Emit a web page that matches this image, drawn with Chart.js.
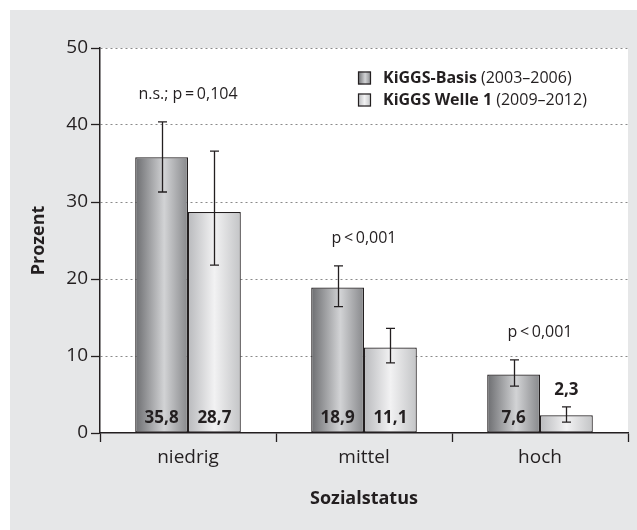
<!DOCTYPE html>
<html>
<head>
<meta charset="utf-8">
<script src="https://cdn.jsdelivr.net/npm/chart.js@4.4.1/dist/chart.umd.min.js"></script>
<style>
  html, body { margin: 0; padding: 0; background: #fff; }
  #wrap { width: 637px; height: 530px; }
</style>
</head>
<body>
<div id="wrap"><canvas id="myChart" width="637" height="530"></canvas></div>
<script>
var categories = ['niedrig', 'mittel', 'hoch'];
var basisValues = [35.8, 18.9, 7.6];
var basisLow = [31.3, 16.4, 6.1];
var basisHigh = [40.4, 21.7, 9.5];
var welleValues = [28.7, 11.1, 2.3];
var welleLow = [21.8, 9.1, 1.4];
var welleHigh = [36.6, 13.6, 3.4];
var valueLabels = [['35,8', '18,9', '7,6'], ['28,7', '11,1', '2,3']];
var pLabels = ['n.s.; p\u2009=\u20090,104', 'p\u2009<\u20090,001', 'p\u2009<\u20090,001'];
var yTicks = [0, 10, 20, 30, 40, 50];

var FONT = '"Open Sans", "DejaVu Sans", sans-serif';
var INK = '#231f20';
var PANEL = '#e6e7e8';

// Farbverläufe der Balken (dunkel / hell)
var gradStops = [
  [[0, '#6c6d70'], [0.55, '#d2d3d5'], [1, '#87888b']],
  [[0, '#b9babd'], [0.5, '#f2f2f3'], [1, '#c3c4c6']]
];

function makeGrad(ctx, x0, x1, stops) {
  var g = ctx.createLinearGradient(x0, 0, x1, 0);
  stops.forEach(function (s) { g.addColorStop(s[0], s[1]); });
  return g;
}

var backgroundPlugin = {
  id: 'background',
  beforeDraw: function (chart) {
    var ctx = chart.ctx, a = chart.chartArea;
    ctx.save();
    ctx.fillStyle = '#fff';
    ctx.fillRect(0, 0, chart.width, chart.height);
    ctx.fillStyle = PANEL;
    ctx.fillRect(10, 10, chart.width - 10, chart.height - 10);
    ctx.fillStyle = '#fff';
    ctx.fillRect(a.left, a.top, a.right - a.left, a.bottom - a.top);
    ctx.restore();
  }
};

var gradientPlugin = {
  id: 'gradientBars',
  beforeDatasetsDraw: function (chart) {
    var ctx = chart.ctx;
    chart.data.datasets.forEach(function (ds, di) {
      chart.getDatasetMeta(di).data.forEach(function (el) {
        var p = el.getProps(['x', 'width'], true);
        var opts = Object.assign({}, el.options);
        opts.backgroundColor = makeGrad(ctx, p.x - p.width / 2, p.x + p.width / 2, gradStops[di]);
        el.options = opts;
      });
    });
  }
};

var errorPlugin = {
  id: 'errorBars',
  afterDatasetsDraw: function (chart) {
    var ctx = chart.ctx, y = chart.scales.y;
    var lows = [basisLow, welleLow], highs = [basisHigh, welleHigh];
    ctx.save();
    ctx.strokeStyle = INK;
    ctx.lineWidth = 1.3;
    chart.data.datasets.forEach(function (ds, di) {
      chart.getDatasetMeta(di).data.forEach(function (el, i) {
        var x = Math.round(el.x) + 0.5;
        var yl = y.getPixelForValue(lows[di][i]);
        var yh = y.getPixelForValue(highs[di][i]);
        ctx.beginPath();
        ctx.moveTo(x, yl); ctx.lineTo(x, yh);
        ctx.moveTo(x - 4.5, yl); ctx.lineTo(x + 4.5, yl);
        ctx.moveTo(x - 4.5, yh); ctx.lineTo(x + 4.5, yh);
        ctx.stroke();
      });
    });

    // Werte in den Balken
    ctx.fillStyle = INK;
    ctx.textAlign = 'center';
    ctx.textBaseline = 'middle';
    ctx.font = 'bold 17px ' + FONT;
    chart.data.datasets.forEach(function (ds, di) {
      chart.getDatasetMeta(di).data.forEach(function (el, i) {
        var base = y.getPixelForValue(0);
        var top = el.y;
        var ty;
        if (base - top < 30) {
          ty = y.getPixelForValue(highs[di][i]) - 17;
        } else {
          ty = base - 15;
        }
        ctx.fillText(valueLabels[di][i], el.x, ty);
      });
    });

    // p-Werte über den Gruppen
    ctx.font = '16px ' + FONT;
    var x = chart.scales.x;
    categories.forEach(function (c, i) {
      var top = Math.max(basisHigh[i], welleHigh[i]);
      ctx.fillText(pLabels[i], x.getPixelForValue(i), y.getPixelForValue(top) - 27);
    });
    ctx.restore();
  }
};

var legendPlugin = {
  id: 'customLegend',
  afterDraw: function (chart) {
    var ctx = chart.ctx;
    var rows = [
      { bold: 'KiGGS-Basis', normal: ' (2003\u20132006)' },
      { bold: 'KiGGS Welle 1', normal: ' (2009\u20132012)' }
    ];
    ctx.save();
    ctx.textBaseline = 'middle';
    rows.forEach(function (r, i) {
      var cy = 78 + i * 22;
      var bx = 358, by = cy - 6.5;
      ctx.fillStyle = makeGrad(ctx, bx, bx + 13, gradStops[i]);
      ctx.fillRect(bx, by, 13, 13);
      ctx.strokeStyle = INK;
      ctx.lineWidth = 1.2;
      ctx.strokeRect(bx + 0.5, by + 0.5, 12, 12);
      ctx.fillStyle = INK;
      ctx.font = 'bold 16px ' + FONT;
      ctx.fillText(r.bold, 383, cy);
      var w = ctx.measureText(r.bold).width;
      ctx.font = '16px ' + FONT;
      ctx.fillText(r.normal, 383 + w, cy);
    });
    ctx.restore();
  }
};

var ctx = document.getElementById('myChart').getContext('2d');
var myChart = new Chart(ctx, {
  type: 'bar',
  data: {
    labels: categories,
    datasets: [{
      label: 'KiGGS-Basis (2003–2006)',
      data: basisValues,
      backgroundColor: function () { return '#999'; },
      borderColor: INK,
      borderWidth: 1.2,
      borderSkipped: false
    }, {
      label: 'KiGGS Welle 1 (2009–2012)',
      data: welleValues,
      backgroundColor: function () { return '#ddd'; },
      borderColor: INK,
      borderWidth: 1.2,
      borderSkipped: false
    }]
  },
  options: {
    responsive: false,
    animation: false,
    events: [],
    layout: { padding: { left: 10, top: 48, right: 9, bottom: 10 } },
    datasets: { bar: { categoryPercentage: 0.6, barPercentage: 1.0 } },
    plugins: { legend: { display: false }, tooltip: { enabled: false } },
    scales: {
      x: {
        afterFit: function (s) { s.height = 87; },
        grid: {
          offset: true,
          drawOnChartArea: false,
          tickLength: 9,
          tickColor: INK,
          tickWidth: 1.3
        },
        border: { color: INK, width: 1.5 },
        ticks: { color: INK, font: { family: FONT, size: 19 }, padding: 4 },
        title: {
          display: true,
          text: 'Sozialstatus',
          color: INK,
          font: { family: FONT, size: 18, weight: 'bold' },
          padding: { top: 10, bottom: 10 }
        }
      },
      y: {
        min: 0,
        max: 50,
        afterFit: function (s) { s.width = 90; },
        afterBuildTicks: function (s) { s.ticks = yTicks.map(function (v) { return { value: v }; }); },
        grid: {
          color: function (c) { return c.tick && c.tick.value === 0 ? 'rgba(0,0,0,0)' : '#8a8a8a'; },
          lineWidth: 1,
          tickLength: 9,
          tickColor: INK,
          tickWidth: 1.3,
          tickBorderDash: []
        },
        border: {
          color: INK,
          width: 1.5,
          dash: function (c) { return c.type === 'tick' ? [2, 3] : []; }
        },
        ticks: { color: INK, font: { family: FONT, size: 19 }, padding: 3 },
        title: {
          display: true,
          text: 'Prozent',
          color: INK,
          font: { family: FONT, size: 18, weight: 'bold' },
          padding: { top: 18, bottom: 18 }
        }
      }
    }
  },
  plugins: [backgroundPlugin, gradientPlugin, errorPlugin, legendPlugin]
});
</script>
</body>
</html>
